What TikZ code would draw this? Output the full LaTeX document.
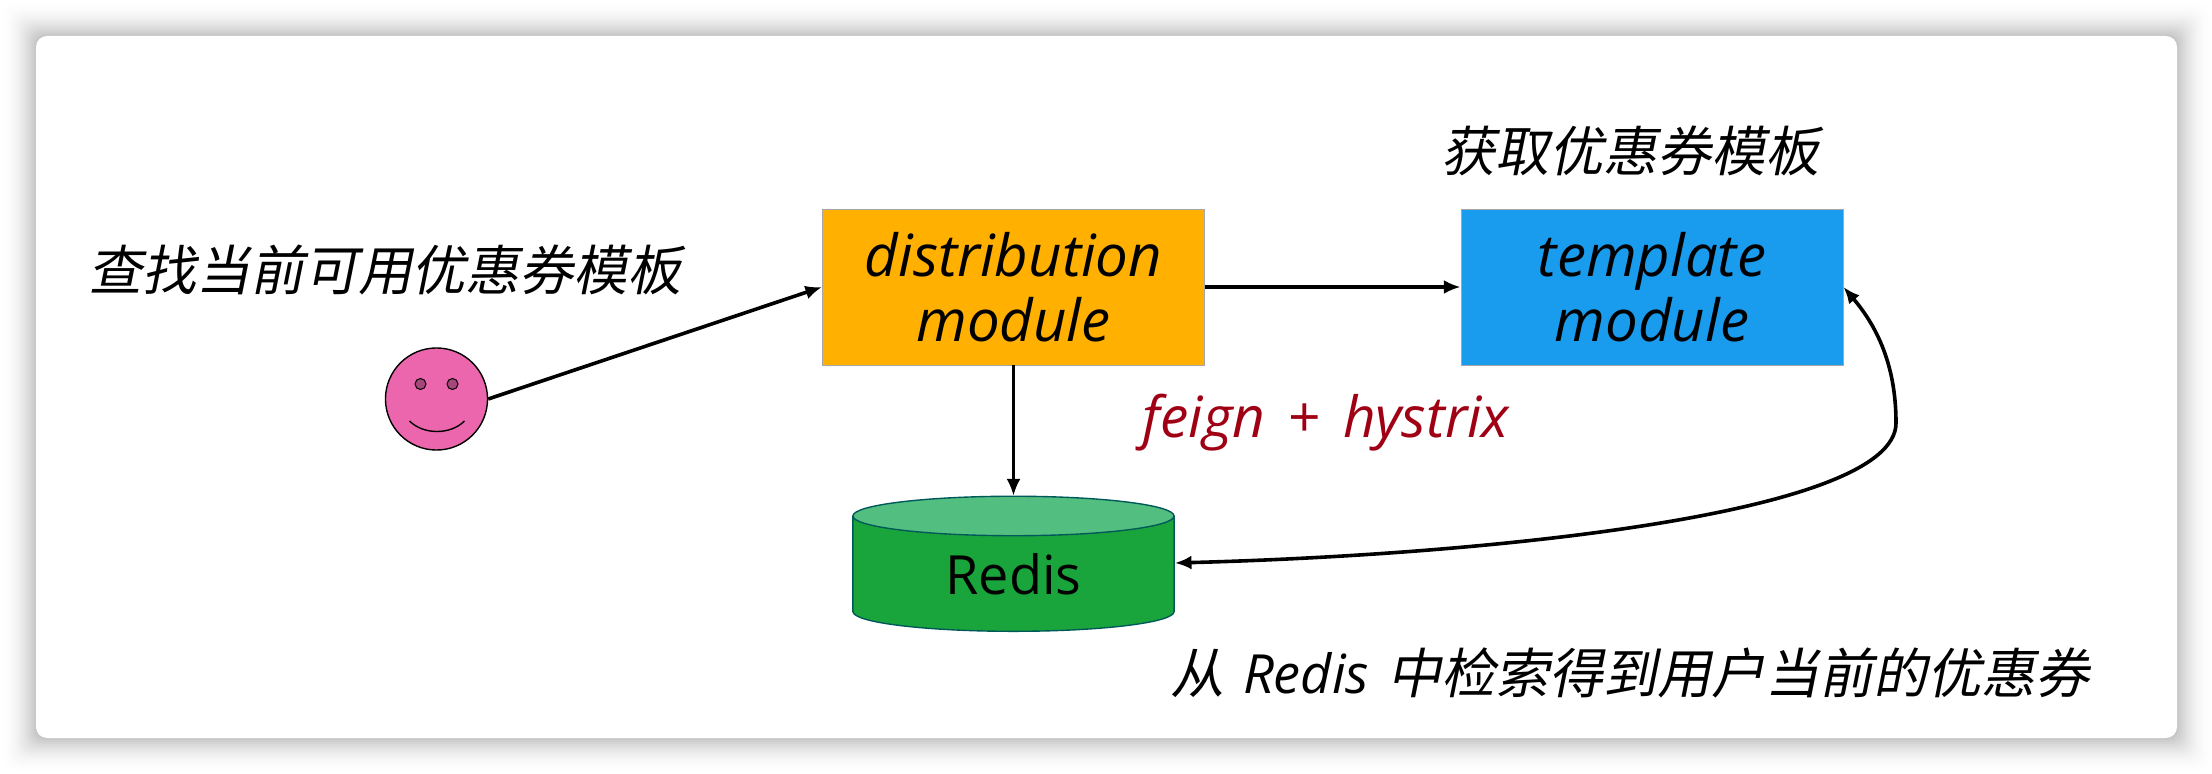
\documentclass[tikz,border=0pt]{standalone}
\usepackage{fontspec}
\usepackage{tikz}
\usetikzlibrary{arrows.meta,shapes.geometric}
\setmainfont{Open Sans}
\newfontfamily\cjkslant[FakeSlant=0.2]{Noto Sans CJK SC}
\definecolor{cardedge}{gray}{0.76}
\definecolor{distfill}{HTML}{FFB000}
\definecolor{tempfill}{HTML}{1A9CEE}
\definecolor{redisbody}{HTML}{1AA53C}
\definecolor{redistop}{HTML}{52BE80}
\definecolor{facepink}{HTML}{EC66AE}
\definecolor{feigncol}{HTML}{A00014}
\tikzset{
  modulebox/.style={draw=black!35,line width=0.5pt,minimum width=3.82in,minimum height=1.56in,
    align=center,font=\fontsize{42}{47}\selectfont\itshape},
  note/.style={inner sep=0pt,font=\fontsize{39}{47}\selectfont\cjkslant},
  arrowline/.style={black,>={Latex[length=12pt,width=10pt]},->,line width=2.6pt},
}
\begin{document}
\begin{tikzpicture}[x=0.01in,y=-0.01in]
\useasboundingbox (0,0) rectangle (2212,774);
% soft edge of the card
\foreach \d in {34,32,...,0}
    \fill[cardedge!\fpeval{100*(1-\d/36)^2}!white]
        (36-\d,36-\d) [rounded corners=8pt] rectangle (2177+\d,738+\d);
\fill[white,rounded corners=8pt] (36,36) rectangle (2177,738);

\node[note] (find) at (385,270) {查找当前可用优惠券模板};
\node[note] (fetch) at (1630,151) {获取优惠券模板};
\node[note] (search) at (1630,673) {从\hspace{0.12em} {\itshape\fontspec{Open Sans}Redis} \hspace{0.12em}中检索得到用户当前的优惠券};
\node[inner sep=0pt,text=feigncol,font=\fontsize{41}{47}\selectfont\itshape] (feign) at (1326,423) {feign\hspace{0.4em}+\hspace{0.4em}hystrix};

\node[modulebox,fill=distfill] (dist) at (1013.5,287) {distribution\\module};
\node[modulebox,fill=tempfill] (temp) at (1652,287) {template\\module};

\node[cylinder,shape border rotate=90,shape aspect=0.29,draw=teal!70!black,line width=1pt,
    cylinder uses custom fill,cylinder body fill=redisbody,cylinder end fill=redistop,
    minimum width=3.21in,minimum height=1.35in,inner sep=0pt,
    font=\fontsize{39}{44}\selectfont] (redis) at (1013.5,574) {Redis};
\coordinate (redisin) at ([yshift=0.11in]redis.east);

% smiley
\node[circle,draw=black,line width=1pt,fill=facepink,minimum size=1.02in,inner sep=0pt] (face) at (436.5,399) {};
\draw[black,fill=facepink!70!black,line width=0.7pt] ([shift={(-16,-15)}]face.center) circle(5.5);
\draw[black,fill=facepink!70!black,line width=0.7pt] ([shift={(16,-15)}]face.center) circle(5.5);
\draw[black,line width=1pt] ([shift={(-27,22)}]face.center) .. controls ([shift={(-13,36)}]face.center) and ([shift={(14,36)}]face.center) .. ([shift={(28,22)}]face.center);

\draw[arrowline] (face.east) -- (dist.west);
\draw[arrowline,line width=2.2pt] (dist.east) -- (temp.west);
\draw[arrowline,line width=1.8pt] (dist.south) -- (redis.north);
\coordinate (bend) at (1896,423);
\draw[arrowline,<->] (redisin) .. controls (1480,555) and (1896,515) .. (bend)
    .. controls (1896,370) and (1880,330) .. (temp.east);
\end{tikzpicture}
\end{document}
